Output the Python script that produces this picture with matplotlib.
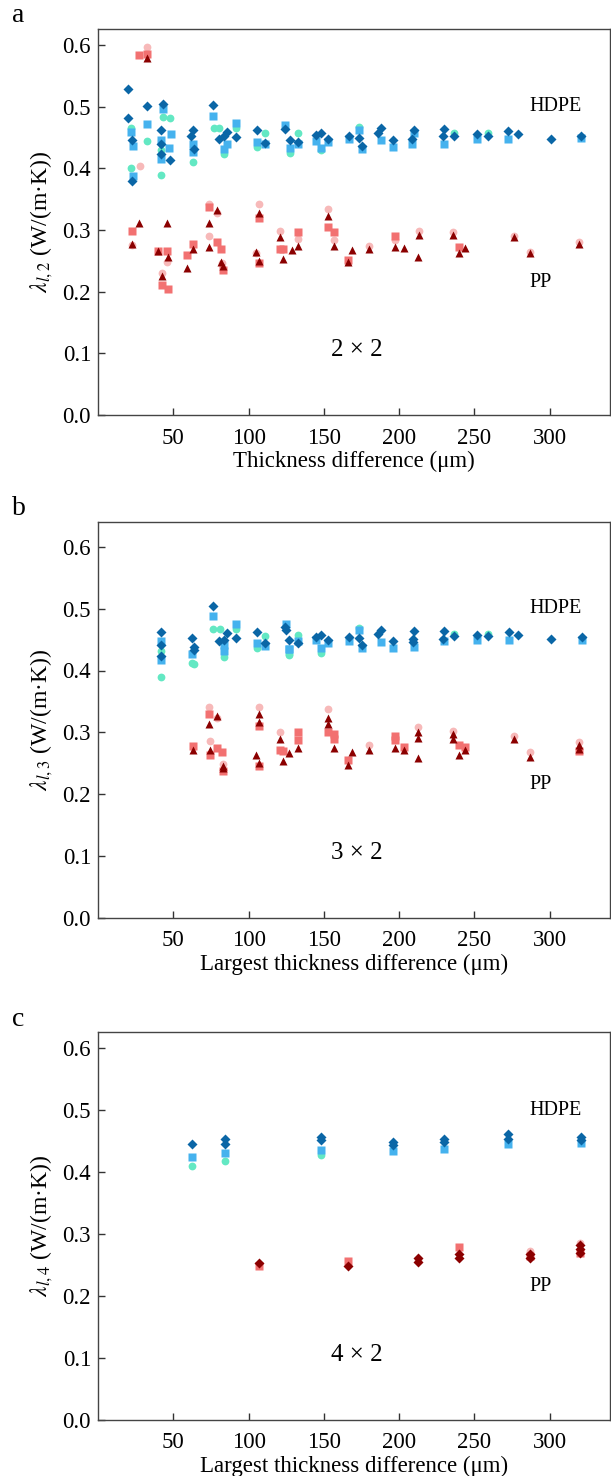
import matplotlib
matplotlib.use("Agg")
import matplotlib.pyplot as plt

plt.rcParams['font.family'] = ['Liberation Serif', 'DejaVu Serif']
plt.rcParams['mathtext.fontset'] = 'stix'

# ---------------- Panel a (2 x 2) ----------------
a_hdpe_c_x = [22, 22, 32.6, 43, 48, 42, 42, 63, 77, 80.5, 84, 91.7, 105.6, 111, 127.4, 133, 148, 173, 236.5, 258.8]
a_hdpe_c_y = [0.465, 0.401, 0.445, 0.483, 0.482, 0.430, 0.389, 0.411, 0.466, 0.466, 0.423, 0.466, 0.434, 0.457, 0.425, 0.457, 0.430, 0.467, 0.458, 0.458]
a_hdpe_s_x = [22, 23, 23, 32.6, 43.3, 48.4, 42, 47.3, 42, 63, 63, 76.3, 85.7, 84, 91.7, 105.6, 111, 124.5, 127.4, 133, 144.5, 148, 153, 166.5, 173, 175, 187.7, 195.7, 210, 208.8, 230, 252, 272, 321]
a_hdpe_s_y = [0.459, 0.437, 0.388, 0.472, 0.496, 0.455, 0.446, 0.433, 0.415, 0.439, 0.427, 0.485, 0.440, 0.431, 0.473, 0.443, 0.440, 0.470, 0.433, 0.440, 0.444, 0.433, 0.442, 0.447, 0.462, 0.432, 0.446, 0.435, 0.458, 0.440, 0.440, 0.448, 0.447, 0.449]
a_hdpe_d_x = [20, 20, 22.5, 22.5, 32.6, 43.3, 41.7, 42, 42, 48, 63, 62, 64, 76.3, 80.5, 83.4, 85.7, 91.7, 105.6, 111, 124.5, 127.4, 133, 144.5, 148, 153, 166.5, 173, 175, 187.7, 186, 195.7, 210, 208.8, 230, 229, 236.5, 252, 258.8, 272, 278.7, 301, 321]
a_hdpe_d_y = [0.528, 0.482, 0.446, 0.380, 0.501, 0.504, 0.462, 0.440, 0.423, 0.413, 0.462, 0.452, 0.431, 0.502, 0.447, 0.452, 0.459, 0.451, 0.462, 0.441, 0.464, 0.446, 0.442, 0.454, 0.457, 0.447, 0.453, 0.449, 0.437, 0.465, 0.458, 0.446, 0.463, 0.447, 0.464, 0.453, 0.453, 0.455, 0.453, 0.461, 0.455, 0.447, 0.452]
a_pp_c_x = [32.6, 28, 22.7, 73.7, 79, 107, 46, 42.6, 74, 82.5, 105, 120.6, 133, 153, 156.5, 180, 197, 213, 236, 276, 287, 319.6]
a_pp_c_y = [0.597, 0.404, 0.275, 0.343, 0.327, 0.343, 0.248, 0.231, 0.290, 0.246, 0.262, 0.298, 0.285, 0.334, 0.284, 0.274, 0.283, 0.299, 0.296, 0.291, 0.265, 0.281]
a_pp_s_x = [27.5, 32.6, 22.7, 40, 46, 42.6, 46.4, 59, 63.4, 73.7, 79, 82, 83, 106.7, 107, 121, 123, 133, 153, 156.5, 166, 197, 240]
a_pp_s_y = [0.584, 0.585, 0.298, 0.266, 0.266, 0.211, 0.204, 0.259, 0.278, 0.337, 0.280, 0.269, 0.235, 0.247, 0.320, 0.269, 0.269, 0.297, 0.305, 0.297, 0.251, 0.290, 0.272]
a_pp_t_x = [32.6, 22.7, 27.5, 45.8, 73.5, 79, 107, 40, 46.4, 42.6, 59, 63.4, 74, 82, 83, 105, 106.7, 120.6, 123, 128.5, 133, 153, 156.5, 166, 169, 180, 197, 203, 213, 212.4, 236, 240, 244, 276, 287, 319.6]
a_pp_t_y = [0.579, 0.278, 0.311, 0.312, 0.311, 0.332, 0.327, 0.266, 0.256, 0.225, 0.238, 0.269, 0.272, 0.248, 0.242, 0.265, 0.250, 0.288, 0.253, 0.267, 0.274, 0.323, 0.274, 0.248, 0.267, 0.269, 0.273, 0.271, 0.292, 0.257, 0.292, 0.262, 0.271, 0.288, 0.262, 0.277]

# ---------------- Panel b (3 x 2) ----------------
b_hdpe_c_x = [41.7, 41.7, 62.4, 64, 76.3, 81, 83.4, 91.7, 105.6, 111, 126.6, 127, 133, 148, 173, 236.5, 258.8]
b_hdpe_c_y = [0.432, 0.390, 0.412, 0.410, 0.467, 0.467, 0.422, 0.467, 0.436, 0.456, 0.426, 0.425, 0.457, 0.428, 0.468, 0.459, 0.459]
b_hdpe_s_x = [41.7, 41.7, 62.4, 76.3, 83.4, 83.4, 91.7, 105.6, 111, 125, 126.6, 127, 133, 144.5, 148, 153, 166.5, 173, 175, 187.7, 195.7, 210, 230, 252, 272.7, 321.6]
b_hdpe_s_y = [0.448, 0.417, 0.426, 0.488, 0.441, 0.432, 0.475, 0.444, 0.440, 0.475, 0.435, 0.434, 0.448, 0.449, 0.436, 0.444, 0.448, 0.466, 0.437, 0.446, 0.436, 0.438, 0.447, 0.450, 0.449, 0.450]
b_hdpe_d_x = [41.7, 42, 41.7, 62.4, 64, 64, 76.3, 80.5, 83.4, 85.7, 91.7, 105.6, 111, 124.5, 125, 127, 133, 144.5, 148, 153, 166.5, 173, 175, 187.7, 186, 195.7, 210, 209, 209, 230, 229, 236.5, 252, 258.8, 272.7, 278.7, 301, 321.6]
b_hdpe_d_y = [0.463, 0.441, 0.424, 0.452, 0.438, 0.433, 0.505, 0.447, 0.449, 0.460, 0.452, 0.463, 0.444, 0.470, 0.465, 0.450, 0.444, 0.454, 0.457, 0.449, 0.454, 0.452, 0.441, 0.465, 0.459, 0.448, 0.464, 0.451, 0.446, 0.464, 0.451, 0.455, 0.458, 0.455, 0.462, 0.457, 0.451, 0.454]
b_pp_c_x = [73.7, 79, 74.6, 107, 120.6, 153, 180, 212.5, 235.7, 276.5, 287, 319.6, 83]
b_pp_c_y = [0.341, 0.323, 0.286, 0.341, 0.301, 0.337, 0.279, 0.308, 0.303, 0.294, 0.268, 0.285, 0.249]
b_pp_s_x = [73.7, 63.4, 74.6, 79, 82.3, 83, 106.7, 120.6, 123, 133, 133, 153, 156.5, 156.5, 166, 197, 197, 203, 240, 243.7, 319.6, 107]
b_pp_s_y = [0.329, 0.278, 0.263, 0.274, 0.268, 0.237, 0.245, 0.272, 0.270, 0.300, 0.288, 0.300, 0.297, 0.290, 0.256, 0.294, 0.288, 0.276, 0.279, 0.276, 0.270, 0.310]
b_pp_t_x = [73.7, 79, 63.4, 74.6, 83, 83, 107, 107, 105, 106.7, 120.6, 123, 127, 133, 153, 153, 156.5, 166, 169, 180, 197, 203, 212.5, 212.5, 212.5, 235.7, 235.7, 240, 243.7, 276.5, 287, 319.6, 319.6]
b_pp_t_y = [0.313, 0.327, 0.271, 0.272, 0.246, 0.242, 0.329, 0.316, 0.264, 0.251, 0.289, 0.254, 0.267, 0.275, 0.324, 0.314, 0.275, 0.248, 0.268, 0.271, 0.274, 0.271, 0.300, 0.291, 0.258, 0.297, 0.289, 0.263, 0.272, 0.289, 0.261, 0.280, 0.273]

# ---------------- Panel c (4 x 2) ----------------
c_hdpe_c_x = [62.4, 84.3, 147.8]
c_hdpe_c_y = [0.409, 0.418, 0.427]
c_hdpe_s_x = [62.4, 84.3, 147.8, 195.7, 229.5, 272.5, 321]
c_hdpe_s_y = [0.424, 0.430, 0.435, 0.434, 0.438, 0.445, 0.447]
c_hdpe_d_x = [62.4, 84.3, 84.3, 147.8, 147.8, 195.7, 195.7, 229.5, 229.5, 272.5, 272.5, 321, 321]
c_hdpe_d_y = [0.445, 0.453, 0.445, 0.457, 0.451, 0.449, 0.443, 0.454, 0.448, 0.461, 0.454, 0.456, 0.451]
c_pp_c_x = [212.2, 287, 319.8]
c_pp_c_y = [0.258, 0.272, 0.286]
c_pp_s_x = [106.7, 166, 240, 287, 319.8]
c_pp_s_y = [0.248, 0.257, 0.279, 0.264, 0.270]
c_pp_d_x = [106.7, 166, 212.2, 212.2, 240, 240, 287, 287, 319.8, 319.8, 319.8]
c_pp_d_y = [0.253, 0.249, 0.262, 0.255, 0.268, 0.261, 0.268, 0.261, 0.282, 0.276, 0.270]

x_ticks = [50, 100, 150, 200, 250, 300]
y_ticks = [0.0, 0.1, 0.2, 0.3, 0.4, 0.5, 0.6]

COL_TURQ = '#63E8C3'
COL_LBLUE = '#45B2EE'
COL_DBLUE = '#0A66A6'
COL_PINK = '#F7B9B9'
COL_SALMON = '#F27171'
COL_DRED = '#8B0000'

fig = plt.figure(figsize=(6.11, 14.76), dpi=100)
W, H = 611, 1476

def make_ax(top_px, bottom_px):
    left = 98 / W
    right = 610 / W
    return fig.add_axes([left, 1 - bottom_px / H, right - left, (bottom_px - top_px) / H])

panels = [
    dict(box=(29, 415), ymax=0.626, letter='a', sub='2', label='2 × 2',
         xlabel='Thickness difference (μm)',
         hc=(a_hdpe_c_x, a_hdpe_c_y), hs=(a_hdpe_s_x, a_hdpe_s_y), hd=(a_hdpe_d_x, a_hdpe_d_y),
         pc=(a_pp_c_x, a_pp_c_y), ps=(a_pp_s_x, a_pp_s_y), pt=(a_pp_t_x, a_pp_t_y), pm='^'),
    dict(box=(522, 918), ymax=0.64, letter='b', sub='3', label='3 × 2',
         xlabel='Largest thickness difference (μm)',
         hc=(b_hdpe_c_x, b_hdpe_c_y), hs=(b_hdpe_s_x, b_hdpe_s_y), hd=(b_hdpe_d_x, b_hdpe_d_y),
         pc=(b_pp_c_x, b_pp_c_y), ps=(b_pp_s_x, b_pp_s_y), pt=(b_pp_t_x, b_pp_t_y), pm='^'),
    dict(box=(1032, 1420), ymax=0.626, letter='c', sub='4', label='4 × 2',
         xlabel='Largest thickness difference (μm)',
         hc=(c_hdpe_c_x, c_hdpe_c_y), hs=(c_hdpe_s_x, c_hdpe_s_y), hd=(c_hdpe_d_x, c_hdpe_d_y),
         pc=(c_pp_c_x, c_pp_c_y), ps=(c_pp_s_x, c_pp_s_y), pt=(c_pp_d_x, c_pp_d_y), pm='D'),
]

for p in panels:
    ax = make_ax(*p['box'])
    ms = 5.6
    ax.plot(*p['hc'], 'o', color=COL_TURQ, ms=ms, mec='none', zorder=2)
    ax.plot(*p['hs'], 's', color=COL_LBLUE, ms=ms, mec='none', zorder=3)
    ax.plot(*p['hd'], 'D', color=COL_DBLUE, ms=ms, mec='none', zorder=4)
    ax.plot(*p['pc'], 'o', color=COL_PINK, ms=ms, mec='none', zorder=2)
    ax.plot(*p['ps'], 's', color=COL_SALMON, ms=ms, mec='none', zorder=3)
    ax.plot(*p['pt'], p['pm'], color=COL_DRED, ms=ms + (0.4 if p['pm'] == '^' else 0), mec='none', zorder=4)

    ax.set_xlim(0, 340)
    ax.set_ylim(0, p['ymax'])
    ax.set_xticks(x_ticks)
    ax.set_yticks(y_ticks)
    ax.set_yticklabels([f'{v:.1f}' for v in y_ticks])
    ax.tick_params(direction='in', length=5, width=1, labelsize=16.5, color='#333333')
    ax.tick_params(axis='x', pad=9)
    ax.tick_params(axis='y', pad=5)
    for s in ax.spines.values():
        s.set_color('#444444')
        s.set_linewidth(1.0)
    ax.set_xlabel(p['xlabel'], fontsize=16.5, labelpad=2)
    ax.set_ylabel(r'$\lambda_{l,' + p['sub'] + r'}$ (W/(m·K))', fontsize=17, labelpad=5)
    ax.text(304, 0.50, 'HDPE', fontsize=14.5, ha='center', va='center')
    ax.text(294, 0.215, 'PP', fontsize=14.5, ha='center', va='center')
    ax.text(172, 0.105, p['label'], fontsize=18, ha='center', va='center')
    top_px = p['box'][0]
    fig.text(12 / W, 1 - (top_px - 13) / H, p['letter'], fontsize=20, ha='left', va='center')

fig.savefig('out.png', dpi=100)
